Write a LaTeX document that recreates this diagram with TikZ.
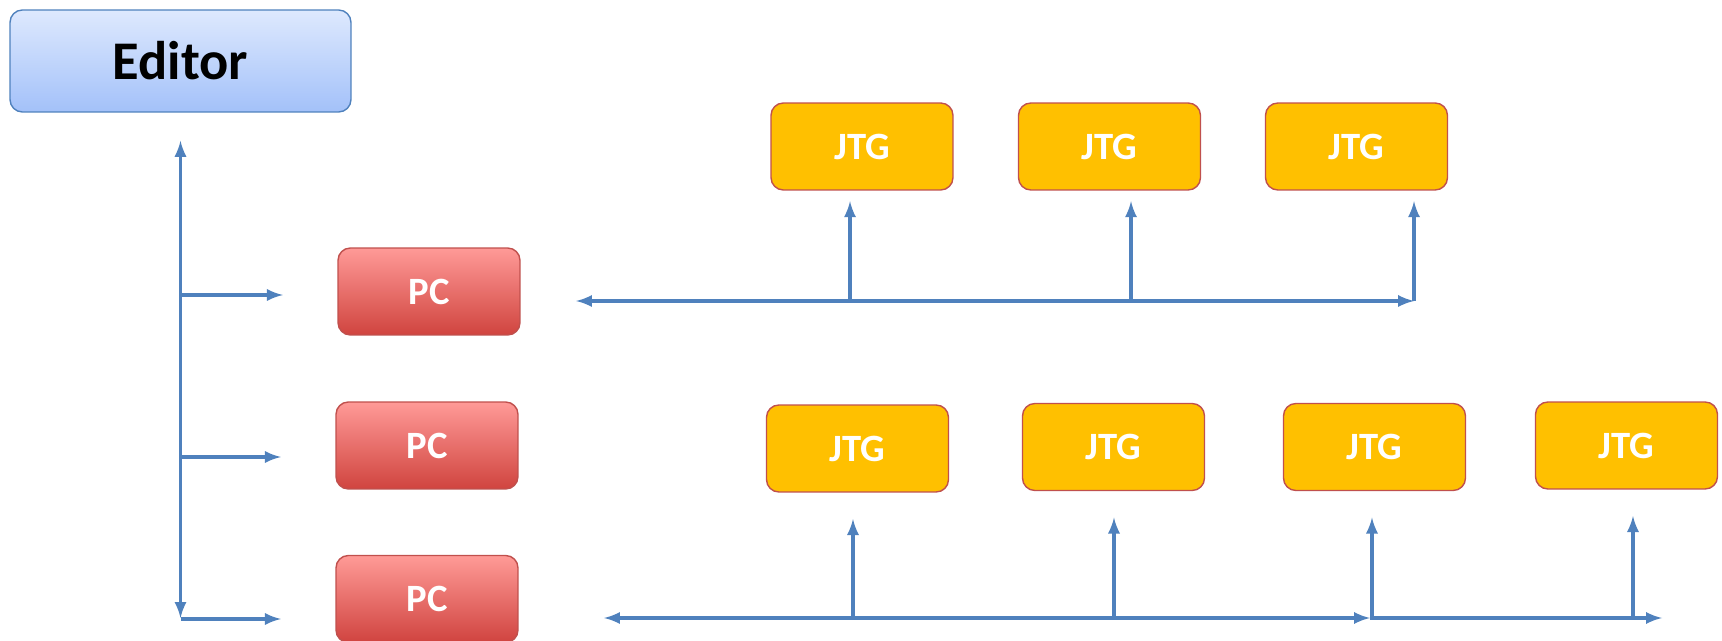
\documentclass[tikz,border=0pt]{standalone}
\usepackage{fontspec}
\setmainfont{Carlito}
\usetikzlibrary{positioning}
\definecolor{linkblue}{RGB}{79,129,189}
\definecolor{edtop}{RGB}{222,233,254}
\definecolor{edbot}{RGB}{163,193,249}
\definecolor{pctop}{RGB}{255,154,151}
\definecolor{pcbot}{RGB}{208,68,63}
\definecolor{redge}{RGB}{192,80,77}
\definecolor{jtgfill}{RGB}{255,192,0}

\begin{document}
\begin{tikzpicture}[x=0.02cm,y=-0.02cm,>=latex]
    \tikzset{b/.style={rounded corners=7pt,draw,line width=0.8pt,align=center,minimum width=3.64cm,minimum height=1.74cm,inner sep=0pt,text=white,font=\fontsize{22}{26}\selectfont\bfseries},
             pc/.style={b,draw=redge,top color=pctop,bottom color=pcbot},
             jtg/.style={b,draw=redge,fill=jtgfill},
             ar/.style={->,line width=2.1pt,draw=linkblue}}
    \useasboundingbox (0,0) rectangle (1722,641);
    \node[b,draw=linkblue,top color=edtop,bottom color=edbot,text=black,minimum width=6.82cm,minimum height=2.04cm,font=\fontsize{31}{36}\selectfont\bfseries] (ed) at (180.5,61) {Editor};
    \node[pc] (pc1) at (429,291.5) {PC};
    \node[pc] (pc2) at (427,445.5) {PC};
    \node[pc] (pc3) at (427,599) {PC};
    \node[jtg] (t1) at (862,146.5) {JTG};
    \node[jtg] (t2) at (1109.5,146.5) {JTG};
    \node[jtg] (t3) at (1356.5,146.5) {JTG};
    \node[jtg] (u1) at (857.5,448.5) {JTG};
    \node[jtg] (u2) at (1113.5,447) {JTG};
    \node[jtg] (u3) at (1374.5,447) {JTG};
    \node[jtg] (u4) at (1626.5,445.5) {JTG};
    % editor trunk and its branches
    \coordinate (k0) at (181,618);
    \coordinate (k1) at (181,295);
    \coordinate (k2) at (181,457);
    \coordinate (k3) at (181,619);
    \draw[ar,<->,shorten <=16pt] (ed.south) -- (ed.south |- k0);
    \foreach \k/\p in {k1/pc1,k2/pc2,k3/pc3} \draw[ar,shorten >=31pt] (\k) -- (\k -| \p.west);
    % upper bus
    \coordinate (tl) at (576,301); \coordinate (tr) at (1414,301);
    \coordinate (tf1) at (850,301); \coordinate (tf2) at (1131,301);
    \draw[ar,<->] (tl) -- (tr);
    \foreach \f/\t in {tf1/t1,tf2/t2,tr/t3} \draw[ar,shorten >=6pt] (\f) -- (\f |- \t.south);
    % lower bus
    \coordinate (bl) at (604,618); \coordinate (bm) at (1370,618); \coordinate (br) at (1662,618);
    \coordinate (bf1) at (853,618); \coordinate (bf2) at (1114,618);
    \coordinate (bf3) at (1372,618); \coordinate (bf4) at (1633,618);
    \draw[ar,<->] (bl) -- (bm); \draw[ar] (bm) -- (br);
    \foreach \f/\t in {bf1/u1,bf2/u2,bf3/u3,bf4/u4} \draw[ar,shorten >=15pt] (\f) -- (\f |- \t.south);
\end{tikzpicture}
\end{document}
